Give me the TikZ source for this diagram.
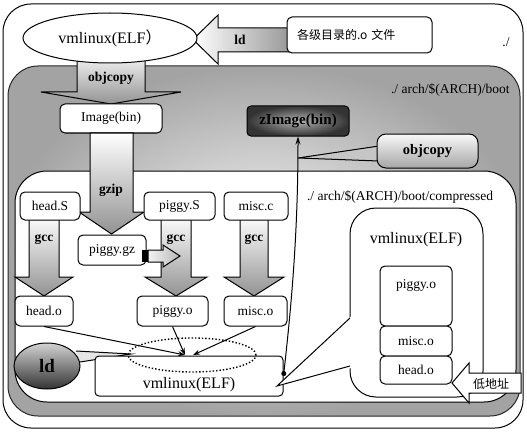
\documentclass[tikz,border=0pt]{standalone}
\usepackage{fontspec}
\setmainfont{Liberation Serif}
\newfontfamily\cjk{Noto Sans CJK SC}
\usetikzlibrary{shapes.geometric, arrows.meta}
\tikzstyle{box} = [rectangle, rounded corners=5pt, draw=black, fill=white, inner sep=0pt, font=\fontsize{13.5}{15}\selectfont]
\tikzstyle{txt} = [inner sep=0pt, font=\fontsize{13.5}{15}\selectfont]
\tikzstyle{btxt} = [inner sep=0pt, font=\fontsize{13.5}{15}\selectfont\bfseries]
\tikzstyle{bigtxt} = [inner sep=0pt, font=\fontsize{16}{18}\selectfont]
\tikzstyle{cjktxt} = [inner sep=0pt, font=\cjk\fontsize{12}{14}\selectfont]
\tikzstyle{fatdown} = [draw=black, top color=white, bottom color=gray!85]
\tikzstyle{fatleft} = [draw=black, left color=white, right color=gray!80]
\tikzstyle{arrow} = [-{Stealth[length=7pt,width=5pt]}]

\begin{document}
\begin{tikzpicture}[x=1pt, y=-1pt, line width=1pt]
  \useasboundingbox (0,0) rectangle (527,433);
  \draw[rounded corners=28pt] (3,4) rectangle (523,428);
  \draw[draw=gray!30!black, rounded corners=30pt, inner color=gray!8, outer color=gray!72] (8,66) rectangle (520,416);
  \node (boot) [txt, anchor=east] at (510,90) {./ arch/\$(ARCH)/boot};
  \draw[fill=white, rounded corners=32pt] (15,171) rectangle (516,402);
  \node (comp) [txt] at (400,197) {./ arch/\$(ARCH)/boot/compressed};

  \draw[fatleft] (193,39.5) -- (218,15) -- (218,28) -- (290,28) -- (290,52) -- (218,52) -- (218,64) -- cycle;
  \node (ldtop) [btxt] at (240,40) {ld};
  \node (objs) [box, minimum width=145pt, minimum height=36pt, text width=125pt, align=left, font=\cjk\fontsize{12}{14}\selectfont] at (359.5,35) {各级目录的.o 文件};
  \node (here) [txt] at (506,42) {./};

  \draw[fatdown] (77,50) -- (145,50) -- (145,92) -- (181,92) -- (111,104) -- (41,92) -- (77,92) -- cycle;
  \node (vmtop) [draw, ellipse, fill=white, minimum width=174pt, minimum height=50pt, bigtxt] at (110,38) {vmlinux(ELF{\cjk ）}};
  \node (cpy1) [btxt] at (111,78) {objcopy};
  \node (img) [box, minimum width=102pt, minimum height=29pt] at (111,118.5) {Image(bin)};

  \draw[fatdown] (90,133) -- (133,133) -- (133,212) -- (144,212) -- (111.5,234) -- (79,212) -- (90,212) -- cycle;
  \node (gzip) [btxt] at (111,190) {gzip};

  \draw[fatdown] (29,215) -- (59,215) -- (59,277) -- (73,277) -- (44,296) -- (15,277) -- (29,277) -- cycle;
  \draw[fatdown] (161,215) -- (191,215) -- (191,277) -- (207,277) -- (176,296) -- (145,277) -- (161,277) -- cycle;
  \draw[fatdown] (240,215) -- (268,215) -- (268,277) -- (284,277) -- (254,296) -- (224,277) -- (240,277) -- cycle;
  \node (hs) [box, minimum width=60pt, minimum height=28pt] at (50,206) {head.S};
  \node (ps) [box, minimum width=71pt, minimum height=28pt] at (179.5,206) {piggy.S};
  \node (mc) [box, minimum width=64pt, minimum height=28pt] at (256,206) {misc.c};
  \node (gcc1) [btxt] at (44,240) {gcc};
  \node (gcc2) [btxt] at (176,240) {gcc};
  \node (gcc3) [btxt] at (254,240) {gcc};

  \node (pgz) [box, minimum width=68pt, minimum height=30pt] at (112,250) {piggy.gz};
  \fill (142,250) rectangle (148,262);
  \draw[left color=gray!10, right color=gray!55] (148,250) -- (163,250) -- (163,245) -- (180,256) -- (163,267) -- (163,262) -- (148,262) -- cycle;

  \node (ho) [box, minimum width=58pt, minimum height=30pt] at (44,311) {head.o};
  \node (po) [box, minimum width=71pt, minimum height=30pt] at (172.5,311) {piggy.o};
  \node (mo) [box, minimum width=63pt, minimum height=30pt] at (255.5,311) {misc.o};

  \node (zimg) [draw, rounded corners=4pt, inner color=gray!60, outer color=black!80, minimum width=102pt, minimum height=30pt, inner sep=0pt, font=\fontsize{15}{17}\selectfont\bfseries] at (298,121) {zImage(bin)};
  \draw[fill=gray!45] (379,146) -- (298,158) -- (379,161);
  \node (cpy2) [draw, rounded corners=9pt, top color=gray!5, bottom color=gray!70, minimum width=101pt, minimum height=34pt, inner sep=0pt, font=\fontsize{14.5}{16}\selectfont\bfseries] at (427.5,151) {objcopy};

  \draw[fill=gray!20] (76,351) -- (131,354) -- (80,362);
  \node (ldbot) [draw, ellipse, top color=gray!35, bottom color=black!80, minimum width=66pt, minimum height=46pt, inner sep=0pt, font=\fontsize{19}{21}\selectfont\bfseries] at (47,366) {ld};
  \node (vmbox) [box, rounded corners=4pt, minimum width=188pt, minimum height=40pt, text height=32pt, text depth=8pt, font=\fontsize{16}{18}\selectfont] at (189,376) {vmlinux(ELF)};
  \node (ring) [draw, ellipse, dotted, line width=1.4pt, minimum width=128pt, minimum height=34pt] at (192,355) {};

  \draw[fill=white, rounded corners=26pt] (350,208) rectangle (483,397);
  \fill[white] (351.5,316) -- (277,386) -- (351.5,368) -- cycle;
  \draw (350,318) -- (277,386) -- (350,366);
  \node (vmright) [bigtxt] at (416,240) {vmlinux(ELF)};
  \node (spo) [box, minimum width=72pt, minimum height=60pt, text height=22pt, text depth=38pt] at (416,296) {piggy.o};
  \node (smo) [box, minimum width=72pt, minimum height=30pt] at (416,341) {misc.o};
  \node (sho) [box, minimum width=72pt, minimum height=28pt] at (416,370) {head.o};
  \draw[fill=white] (452,383) -- (469,363) -- (469,373) -- (521,373) -- (521,393) -- (469,393) -- (469,403) -- cycle;
  \node (low) [cjktxt] at (491,384) {低地址};

  \coordinate (hit) at (185,355);
  \coordinate (hit2) at (193,355);
  \draw[arrow] (ho.south) -- (hit);
  \draw[arrow] (po.south) -- (hit);
  \draw[arrow] (mo.south) -- (hit2);
  \draw[{Circle[length=5pt]}-{Stealth[length=8pt,width=5pt]}] (vmbox.east) .. controls (292,300) and (298,230) .. (zimg.south);
\end{tikzpicture}
\end{document}
